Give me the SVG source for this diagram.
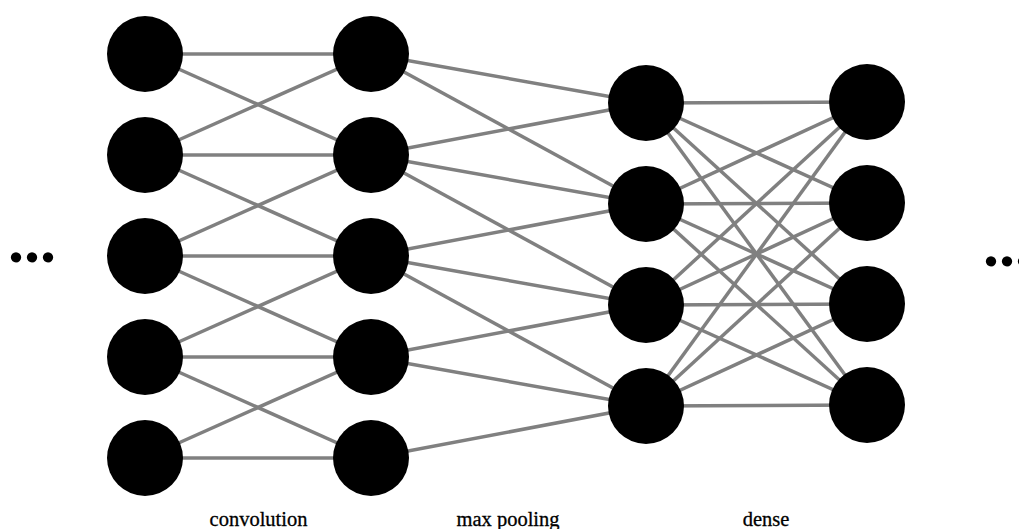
<svg xmlns="http://www.w3.org/2000/svg" width="1019" height="529" viewBox="0 0 1019 529">
  <style>
    .edge { stroke: #808080; stroke-width: 3.5; fill: none; }
    .node { fill: #000000; }
    .label { font-family: "Liberation Serif", "Times New Roman", serif; font-size: 20.5px; fill: #000000; stroke: #000000; stroke-width: 0.3; text-anchor: middle; }
    .ellipsis { font-family: "Liberation Serif", "Times New Roman", serif; font-size: 64px; font-weight: bold; fill: #000000; }
  </style>
  <rect width="1019" height="529" fill="#ffffff"/>

  <!-- connectors -->
  <g id="connectors">
    <!-- layer 1 to layer 2: each unit feeds itself and its neighbours -->
    <line class="edge" x1="145" y1="54" x2="371" y2="54"/>
    <line class="edge" x1="145" y1="54" x2="371" y2="155"/>
    <line class="edge" x1="145" y1="155" x2="371" y2="54"/>
    <line class="edge" x1="145" y1="155" x2="371" y2="155"/>
    <line class="edge" x1="145" y1="155" x2="371" y2="256"/>
    <line class="edge" x1="145" y1="256" x2="371" y2="155"/>
    <line class="edge" x1="145" y1="256" x2="371" y2="256"/>
    <line class="edge" x1="145" y1="256" x2="371" y2="357"/>
    <line class="edge" x1="145" y1="357" x2="371" y2="256"/>
    <line class="edge" x1="145" y1="357" x2="371" y2="357"/>
    <line class="edge" x1="145" y1="357" x2="371" y2="458"/>
    <line class="edge" x1="145" y1="458" x2="371" y2="357"/>
    <line class="edge" x1="145" y1="458" x2="371" y2="458"/>

    <!-- layer 2 to layer 3 -->
    <line class="edge" x1="371" y1="54" x2="646" y2="103"/>
    <line class="edge" x1="371" y1="54" x2="646" y2="204"/>
    <line class="edge" x1="371" y1="155" x2="646" y2="103"/>
    <line class="edge" x1="371" y1="155" x2="646" y2="204"/>
    <line class="edge" x1="371" y1="155" x2="646" y2="305"/>
    <line class="edge" x1="371" y1="256" x2="646" y2="204"/>
    <line class="edge" x1="371" y1="256" x2="646" y2="305"/>
    <line class="edge" x1="371" y1="256" x2="646" y2="406"/>
    <line class="edge" x1="371" y1="357" x2="646" y2="305"/>
    <line class="edge" x1="371" y1="357" x2="646" y2="406"/>
    <line class="edge" x1="371" y1="458" x2="646" y2="406"/>

    <!-- layer 3 to layer 4: fully connected -->
    <line class="edge" x1="646" y1="103" x2="867" y2="102"/>
    <line class="edge" x1="646" y1="103" x2="867" y2="203"/>
    <line class="edge" x1="646" y1="103" x2="867" y2="304"/>
    <line class="edge" x1="646" y1="103" x2="867" y2="405"/>
    <line class="edge" x1="646" y1="204" x2="867" y2="102"/>
    <line class="edge" x1="646" y1="204" x2="867" y2="203"/>
    <line class="edge" x1="646" y1="204" x2="867" y2="304"/>
    <line class="edge" x1="646" y1="204" x2="867" y2="405"/>
    <line class="edge" x1="646" y1="305" x2="867" y2="102"/>
    <line class="edge" x1="646" y1="305" x2="867" y2="203"/>
    <line class="edge" x1="646" y1="305" x2="867" y2="304"/>
    <line class="edge" x1="646" y1="305" x2="867" y2="405"/>
    <line class="edge" x1="646" y1="406" x2="867" y2="102"/>
    <line class="edge" x1="646" y1="406" x2="867" y2="203"/>
    <line class="edge" x1="646" y1="406" x2="867" y2="304"/>
    <line class="edge" x1="646" y1="406" x2="867" y2="405"/>
  </g>

  <!-- layer 1 -->
  <g id="n1-1"><circle class="node" cx="145" cy="54" r="38"/></g>
  <g id="n1-2"><circle class="node" cx="145" cy="155" r="38"/></g>
  <g id="n1-3"><circle class="node" cx="145" cy="256" r="38"/></g>
  <g id="n1-4"><circle class="node" cx="145" cy="357" r="38"/></g>
  <g id="n1-5"><circle class="node" cx="145" cy="458" r="38"/></g>

  <!-- layer 2 -->
  <g id="n2-1"><circle class="node" cx="371" cy="54" r="38"/></g>
  <g id="n2-2"><circle class="node" cx="371" cy="155" r="38"/></g>
  <g id="n2-3"><circle class="node" cx="371" cy="256" r="38"/></g>
  <g id="n2-4"><circle class="node" cx="371" cy="357" r="38"/></g>
  <g id="n2-5"><circle class="node" cx="371" cy="458" r="38"/></g>

  <!-- layer 3 -->
  <g id="n3-1"><circle class="node" cx="646" cy="103" r="38"/></g>
  <g id="n3-2"><circle class="node" cx="646" cy="204" r="38"/></g>
  <g id="n3-3"><circle class="node" cx="646" cy="305" r="38"/></g>
  <g id="n3-4"><circle class="node" cx="646" cy="406" r="38"/></g>

  <!-- layer 4 -->
  <g id="n4-1"><circle class="node" cx="867" cy="102" r="38"/></g>
  <g id="n4-2"><circle class="node" cx="867" cy="203" r="38"/></g>
  <g id="n4-3"><circle class="node" cx="867" cy="304" r="38"/></g>
  <g id="n4-4"><circle class="node" cx="867" cy="405" r="38"/></g>

  <!-- continuation marks -->
  <text class="ellipsis" x="8" y="262">...</text>
  <text class="ellipsis" x="983" y="266">...</text>

  <!-- layer captions -->
  <text class="label" x="258.5" y="526">convolution</text>
  <text class="label" x="508" y="526">max pooling</text>
  <text class="label" x="766" y="526">dense</text>
</svg>
